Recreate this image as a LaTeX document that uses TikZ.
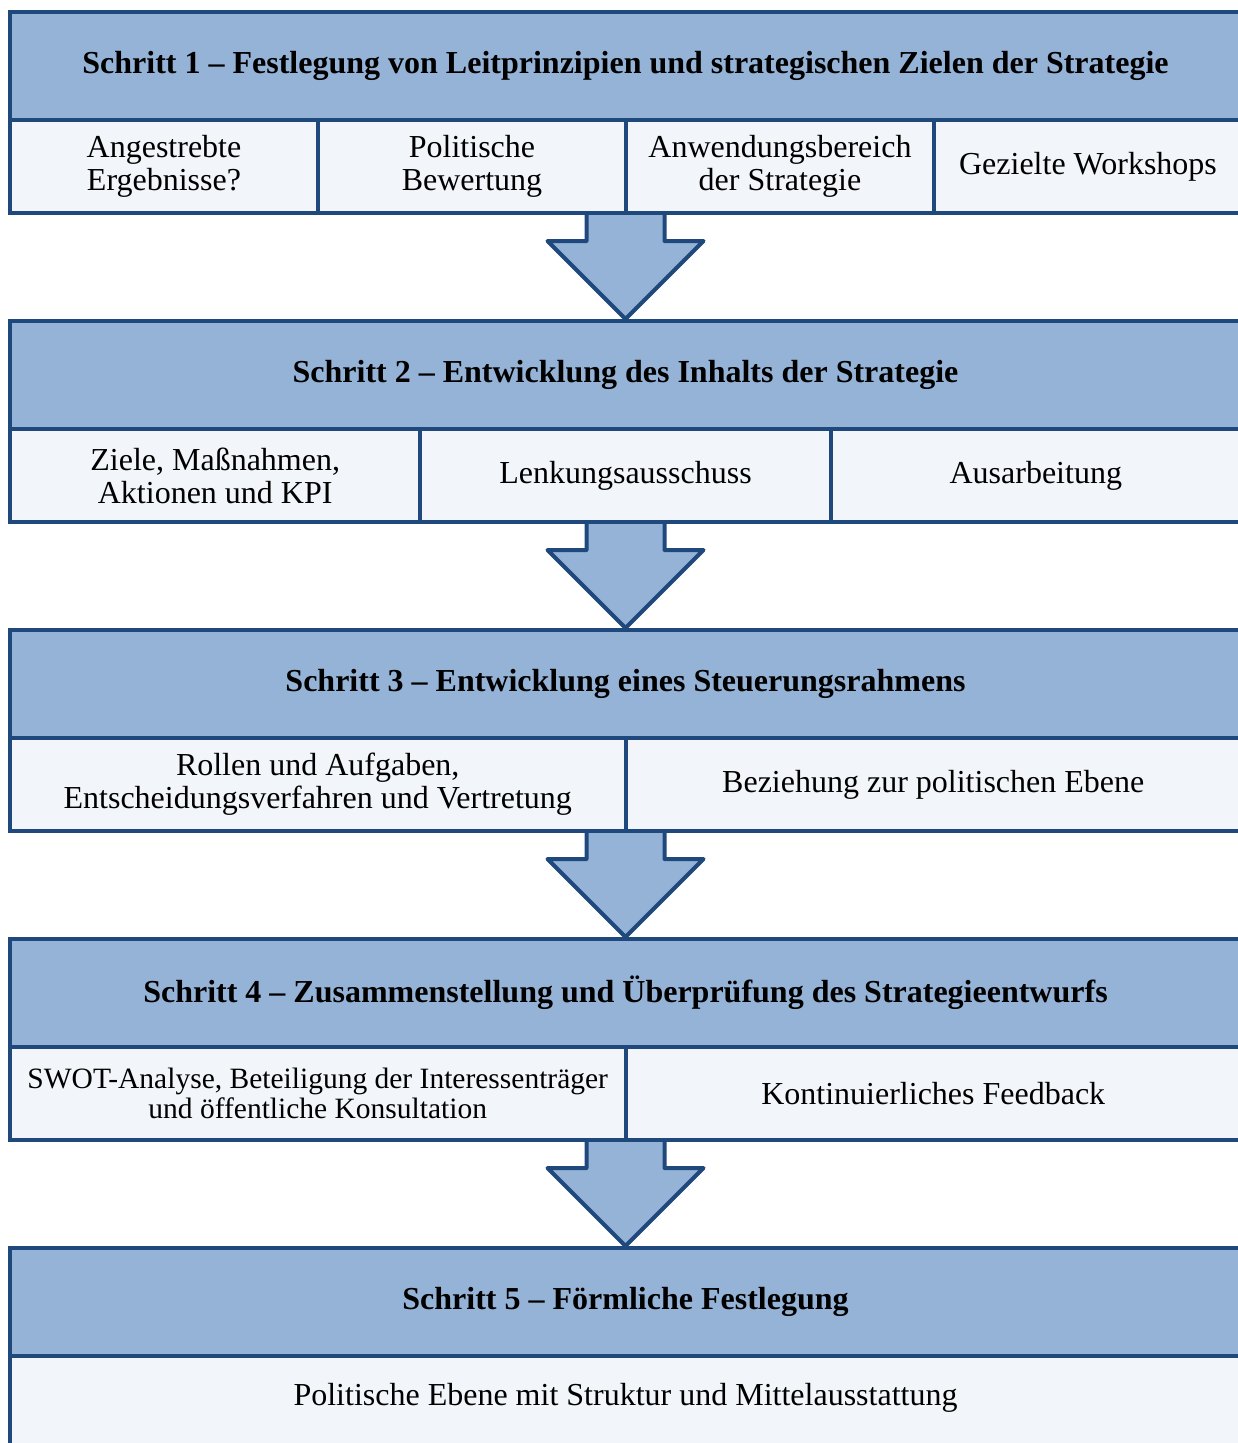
\documentclass[tikz,border=0pt]{standalone}
\usepackage{fontspec}
\setmainfont{Liberation Serif}
\usetikzlibrary{calc}
\definecolor{hdr}{RGB}{149,179,215}
\definecolor{bord}{RGB}{31,73,125}
\definecolor{cellfill}{RGB}{242,245,249}
\pgfdeclarelayer{bg}
\pgfsetlayers{bg,main}
\tikzset{
  hdrbox/.style={draw=bord, fill=hdr, line width=4pt, minimum width=1231pt, minimum height=108pt, inner sep=0pt, font=\fontsize{32}{34}\selectfont\bfseries},
  cellbox/.style={draw=bord, fill=cellfill, line width=4pt, minimum height=93pt, inner sep=0pt, align=center, font=\fontsize{32}{33}\selectfont},
  downarrow/.style={draw=bord, fill=hdr, line width=4pt, line join=round}
}
\newcommand{\stepArrow}[1]{%
  \filldraw[downarrow] ($(#1)+(-39,-108)$) -- ($(#1)+(-39,-78)$) -- ($(#1)+(-78,-78)$) -- (#1) -- ($(#1)+(78,-78)$) -- ($(#1)+(39,-78)$) -- ($(#1)+(39,-108)$);}
\begin{document}
\begin{tikzpicture}[x=1pt,y=-1pt]
\useasboundingbox (0,0) rectangle (1237,1443);
% Step 1
\node[hdrbox] (h1) at (625.5,66) {Schritt 1 – Festlegung von Leitprinzipien und strategischen Zielen der Strategie};
\node[cellbox, minimum width=308pt] (s1a) at (164,166.5) {Angestrebte\\Ergebnisse?};
\node[cellbox, minimum width=308pt] (s1b) at (472,166.5) {Politische\\Bewertung};
\node[cellbox, minimum width=308pt] (s1c) at (780,166.5) {Anwendungsbereich\\der Strategie};
\node[cellbox, minimum width=308pt] (s1d) at (1088,166.5) {Gezielte Workshops};
% Step 2
\node[hdrbox] (h2) at (625.5,375) {Schritt 2 – Entwicklung des Inhalts der Strategie};
\node[cellbox, minimum width=410.3pt] (s2a) at (215.2,475.5) {Ziele, Maßnahmen,\\Aktionen und KPI};
\node[cellbox, minimum width=410.3pt] (s2b) at (625.5,475.5) {Lenkungsausschuss};
\node[cellbox, minimum width=410.3pt] (s2c) at (1035.8,475.5) {Ausarbeitung};
% Step 3
\node[hdrbox] (h3) at (625.5,684) {Schritt 3 – Entwicklung eines Steuerungsrahmens};
\node[cellbox, minimum width=615.5pt] (s3a) at (317.75,784.5) {Rollen und Aufgaben,\\Entscheidungsverfahren und Vertretung};
\node[cellbox, minimum width=615.5pt] (s3b) at (933.25,784.5) {Beziehung zur politischen Ebene};
% Step 4
\node[hdrbox] (h4) at (625.5,993) {Schritt 4 – Zusammenstellung und Überprüfung des Strategieentwurfs};
\node[cellbox, minimum width=615.5pt, font=\fontsize{29.5}{30}\selectfont] (s4a) at (317.75,1093.5) {SWOT-Analyse, Beteiligung der Interessenträger\\und öffentliche Konsultation};
\node[cellbox, minimum width=615.5pt] (s4b) at (933.25,1093.5) {Kontinuierliches Feedback};
% Step 5
\node[hdrbox] (h5) at (625.5,1302) {Schritt 5 – Förmliche Festlegung};
\node[cellbox, minimum width=1231pt, minimum height=144pt] (s5a) at (625.5,1428) {};
\node[font=\fontsize{32}{34}\selectfont, inner sep=0pt] (s5t) at (625.5,1398) {Politische Ebene mit Struktur und Mittelausstattung};
% Arrows (behind the boxes)
\begin{pgfonlayer}{bg}
\stepArrow{h2.north}
\stepArrow{h3.north}
\stepArrow{h4.north}
\stepArrow{h5.north}
\end{pgfonlayer}
\end{tikzpicture}
\end{document}
